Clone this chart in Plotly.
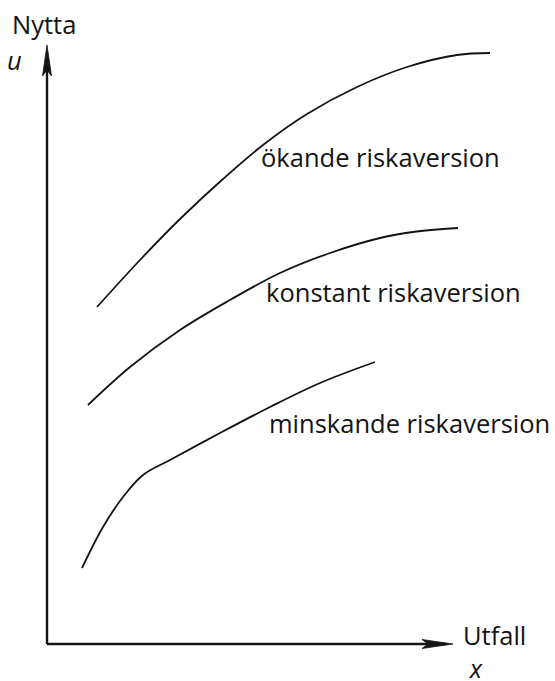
import plotly.graph_objects as go

# Utility curves: outcome x against utility u for three attitudes to risk
x_okande = [50, 93, 133, 176, 216, 260, 310, 360, 410, 443]
u_okande = [337, 384, 425, 465, 499, 530, 557, 577, 589, 591]

x_konstant = [41, 83, 133, 183, 233, 283, 333, 366, 411]
u_konstant = [239, 277, 314, 344, 371, 391, 406, 412, 416]

x_minskande = [35, 56, 76, 96, 123, 173, 223, 273, 328]
u_minskande = [76, 117, 147, 169, 184, 211, 237, 261, 282]

curve_labels = ["ökande riskaversion", "konstant riskaversion", "minskande riskaversion"]
label_pos = [(212, 487), (217, 352), (220, 221)]

INK = "#141414"
FONT = "Open Sans"
SIZE = 25.5

fig = go.Figure()
for xs, us in [(x_okande, u_okande), (x_konstant, u_konstant), (x_minskande, u_minskande)]:
    fig.add_trace(go.Scatter(
        x=xs, y=us, mode="lines",
        line=dict(color=INK, width=1.8, shape="spline", smoothing=1.0),
        hoverinfo="skip", showlegend=False,
    ))

# Axes drawn as lines with notched arrowheads
x_end, u_end = 406, 599
head_len, head_w, notch = 31, 4.5, 6
shapes = [
    dict(type="line", x0=0, y0=0, x1=0, y1=u_end - head_len + notch,
         line=dict(color=INK, width=2.4)),
    dict(type="line", x0=0, y0=0, x1=x_end - head_len + notch, y1=0,
         line=dict(color=INK, width=2.4)),
    dict(type="path",
         path=f"M 0 {u_end} L {-head_w} {u_end - head_len} L 0 {u_end - head_len + notch} "
              f"L {head_w} {u_end - head_len} Z",
         fillcolor=INK, line=dict(color=INK, width=0.8)),
    dict(type="path",
         path=f"M {x_end} 0 L {x_end - head_len} {head_w} L {x_end - head_len + notch} 0 "
              f"L {x_end - head_len} {-head_w} Z",
         fillcolor=INK, line=dict(color=INK, width=0.8)),
]

annotations = []
for text, (lx, ly) in zip(curve_labels, label_pos):
    annotations.append(dict(x=lx, y=ly, text=text, showarrow=False,
                            xanchor="left", yanchor="middle",
                            font=dict(family=FONT, size=SIZE, color=INK)))
annotations += [
    dict(x=-37, y=620, text="Nytta", showarrow=False, xanchor="left", yanchor="middle",
         font=dict(family=FONT, size=SIZE, color=INK)),
    dict(x=-33, y=584, text="<i>u</i>", showarrow=False, xanchor="center", yanchor="middle",
         font=dict(family=FONT, size=SIZE, color=INK)),
    # x-axis name with its symbol on the line below
    dict(x=414, y=-7, text="Utfall<br> <i>x</i>", showarrow=False,
         xanchor="left", yanchor="middle", align="left",
         font=dict(family=FONT, size=SIZE, color=INK)),
]

fig.update_layout(
    width=555, height=681,
    margin=dict(l=0, r=0, t=0, b=0),
    paper_bgcolor="white", plot_bgcolor="white",
    xaxis=dict(range=[-47, 508], visible=False, fixedrange=True),
    yaxis=dict(range=[-37, 644], visible=False, fixedrange=True),
    shapes=shapes, annotations=annotations,
)

fig.write_html("out.html")
